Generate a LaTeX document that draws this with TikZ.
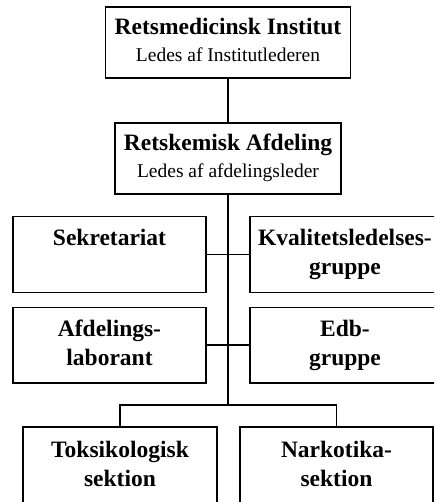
\documentclass[tikz,border=0pt]{standalone}
\usepackage{fontspec}
\setmainfont{Liberation Serif}

\begin{document}
\begin{tikzpicture}[x=1pt,y=-1pt,line width=1.5pt]
  \def\bf{\fontsize{23.5}{28.3}\selectfont\bfseries}
  \def\hb{\fontsize{23.5}{26}\selectfont\bfseries}
  \def\rm{\fontsize{19.5}{26}\selectfont\mdseries}

\tikzstyle{unit}=[draw,rectangle,inner sep=0pt,align=center,minimum height=75.5pt]
\tikzstyle{head}=[unit,minimum height=71pt]
\useasboundingbox (0,0) rectangle (434,502);
\clip (0,0) rectangle (434,502);
% ledelse
\node[head,minimum width=245pt] (inst) at (228,42.5) {\hb Retsmedicinsk Institut\strut\\ \rm Ledes af Institutlederen\strut};
\node[head,minimum width=226pt] (afd) at (228,158.5) {\hb Retskemisk Afdeling\strut\\ \rm Ledes af afdelingsleder\strut};
\draw (inst) -- (afd);
% stabe
\node[unit,minimum width=193pt] (sek) at (109.5,254.5) {\bf Sekretariat\strut\\ \mbox{\bf\strut}};
\node[unit,minimum width=190pt] (kval) at (345,254.5) {\bf Kvalitetsledelses-\strut\\ \bf gruppe\strut};
\draw (sek) -- (kval);
\node[unit,minimum width=193pt] (lab) at (109.5,345) {\bf Afdelings-\strut\\ \bf laborant\strut};
\node[unit,minimum width=190pt] (edb) at (345,345) {\bf Edb-\strut\\ \bf gruppe\strut};
\draw (lab) -- (edb);
% sektioner
\coordinate (split) at (228,405);
\draw (afd) -- (split);
\node[unit,minimum width=194pt,minimum height=78pt] (tox) at (120,466) {\bf Toksikologisk\strut\\ \bf sektion\strut};
\node[unit,minimum width=193pt,minimum height=78pt] (nark) at (336.5,466) {\bf Narkotika-\strut\\ \bf sektion\strut};
\draw (tox) |- (split) -| (nark);
\end{tikzpicture}
\end{document}
